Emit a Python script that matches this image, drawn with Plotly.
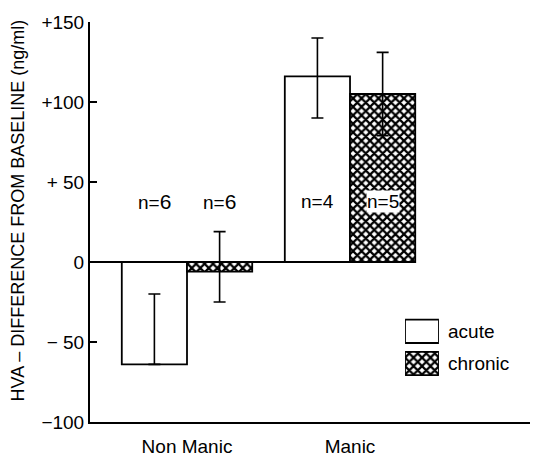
import plotly.graph_objects as go

# ---- data ----
groups = ["Non Manic", "Manic"]
group_pos = [0, 1]
acute_vals = [-64, 116]
acute_err_plus = [44, 24]
acute_err_minus = [0, 26]
chronic_vals = [-6, 105]
chronic_err_plus = [25, 26]
chronic_err_minus = [19, 26]
acute_n = ["n=<span style='font-size:21px'>6</span>", "n=4"]
chronic_n = ["n=<span style='font-size:21px'>6</span>", "n=5"]
y_tickvals = [150, 100, 50, 0, -50, -100]
y_ticktext = ["+150", "+100", "+ 50", "0", "\u2212 50", "\u2212100"]

W = 0.4  # bar width (category units)
FONT = "Liberation Sans, Arial, Helvetica, sans-serif"
HATCH = dict(shape="x", fgcolor="black", bgcolor="white", size=6, solidity=0.6, fgopacity=1)

acute_x = [g - W / 2 for g in group_pos]
chronic_x = [g + W / 2 for g in group_pos]

fig = go.Figure()
fig.add_trace(go.Bar(
    x=acute_x, y=acute_vals, width=W, name="acute",
    marker=dict(color="white", line=dict(color="black", width=1.8)),
    error_y=dict(type="data", symmetric=False, array=acute_err_plus,
                 arrayminus=acute_err_minus, color="black", thickness=1.6, width=6),
    showlegend=False,
))
fig.add_trace(go.Bar(
    x=chronic_x, y=chronic_vals, width=W, name="chronic",
    marker=dict(color="white", line=dict(color="black", width=1.8), pattern=HATCH),
    error_y=dict(type="data", symmetric=False, array=chronic_err_plus,
                 arrayminus=chronic_err_minus, color="black", thickness=1.6, width=6),
    showlegend=False,
))

# legend boxes drawn as bars in a small inset axis
fig.add_trace(go.Bar(
    x=[1], y=[1], width=0.727, orientation="h", xaxis="x2", yaxis="y2",
    marker=dict(color="white", line=dict(color="black", width=1.8)),
    showlegend=False, hoverinfo="skip",
))
fig.add_trace(go.Bar(
    x=[1], y=[0], width=0.727, orientation="h", xaxis="x2", yaxis="y2",
    marker=dict(color="white", line=dict(color="black", width=1.8), pattern=HATCH),
    showlegend=False, hoverinfo="skip",
))

annotations = []
for xs, labels, is_chronic in ((acute_x, acute_n, False), (chronic_x, chronic_n, True)):
    for i, (xv, t) in enumerate(zip(xs, labels)):
        use_bg = "white" if (is_chronic and i == 1) else "rgba(0,0,0,0)"
        annotations.append(dict(x=xv, y=38, xref="x", yref="y", text=t,
                                showarrow=False, font=dict(size=19, color="black", family=FONT),
                                bgcolor=use_bg, borderpad=0))

annotations.append(dict(x=0.809, y=0.227, xref="paper", yref="paper", text="acute",
                        xanchor="left", yanchor="middle", showarrow=False,
                        font=dict(size=19, color="black", family=FONT)))
annotations.append(dict(x=0.809, y=0.146, xref="paper", yref="paper", text="chronic",
                        xanchor="left", yanchor="middle", showarrow=False,
                        font=dict(size=19, color="black", family=FONT)))
annotations.append(dict(x=-0.1636, y=0.529, xref="paper", yref="paper",
                        text="HVA \u2013 DIFFERENCE FROM BASELINE (ng/ml)", textangle=-90,
                        xanchor="center", yanchor="middle", showarrow=False,
                        font=dict(size=18, color="black", family=FONT)))

fig.update_layout(
    width=544, height=469,
    margin=dict(l=90, r=14, t=17, b=42),
    paper_bgcolor="white", plot_bgcolor="white",
    barmode="overlay",
    font=dict(family=FONT, size=19, color="black"),
    xaxis=dict(range=[-0.595, 2.104], tickvals=group_pos, ticktext=groups,
               showline=True, linecolor="black", linewidth=2, ticks="",
               showgrid=False, zeroline=False, ticklabelstandoff=6,
               tickfont=dict(size=19)),
    yaxis=dict(range=[-100, 150], tickvals=y_tickvals, ticktext=y_ticktext,
               ticksuffix="\u00a0",
               showline=True, linecolor="black", linewidth=2, ticks="inside",
               ticklen=7, tickwidth=1.5, tickcolor="black",
               showgrid=False, zeroline=False, tickfont=dict(size=19)),
    xaxis2=dict(domain=[0.716, 0.793], range=[0, 1], visible=False, anchor="y2"),
    yaxis2=dict(domain=[0.106, 0.267], range=[-0.5, 1.5], visible=False, anchor="x2"),
    annotations=annotations,
    shapes=[dict(type="line", xref="x", yref="y", x0=-0.595,
                 x1=group_pos[-1] + W, y0=0, y1=0,
                 line=dict(color="black", width=2))],
)

fig.write_html("out.html")
